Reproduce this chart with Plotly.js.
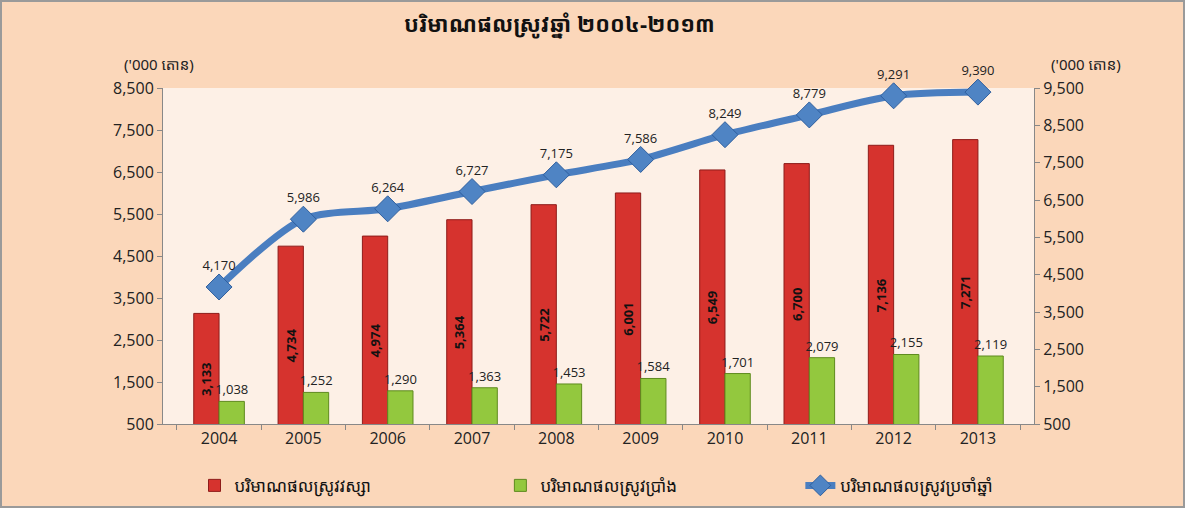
<!DOCTYPE html>
<html>
<head>
<meta charset="utf-8">
<script src="https://cdn.plot.ly/plotly-3.0.1.min.js"></script>
<style>
html,body{margin:0;padding:0;background:#fff;}
#chart{width:1181px;height:504px;border:2px solid #9a9a9a;}
</style>
</head>
<body>
<div id="chart"></div>
<script>
var years = ['2004','2005','2006','2007','2008','2009','2010','2011','2012','2013'];
var wetSeason = [3133,4734,4974,5364,5722,6001,6549,6700,7136,7271];
var drySeason = [1038,1252,1290,1363,1453,1584,1701,2079,2155,2119];
var annualTotal = [4170,5986,6264,6727,7175,7586,8249,8779,9291,9390];
var leftTicks = [500,1500,2500,3500,4500,5500,6500,7500,8500];
var rightTicks = [500,1500,2500,3500,4500,5500,6500,7500,8500,9500];

var nameWet = 'បរិមាណផលស្រូវវស្សា';
var nameDry = 'បរិមាណផលស្រូវប្រាំង';
var nameTotal = 'បរិមាណផលស្រូវប្រចាំឆ្នាំ';
var titleText = 'បរិមាណផលស្រូវឆ្នាំ ២០០៤-២០១៣';
var unitText = "('000 តោន)";

var khmerFont = '"Noto Sans Khmer","Khmer OS","Noto Sans",sans-serif';
var numFont = '"Liberation Sans Narrow","Open Sans","Liberation Sans",sans-serif';
function fmt(v){return v.toLocaleString('en-US');}

var traces = [
  {
    type:'bar', name:nameWet, x:years, y:wetSeason, legend:'legend',
    text:wetSeason.map(fmt), textposition:'inside', insidetextanchor:'middle',
    textangle:-90, constraintext:'none',
    textfont:{family:'"Open Sans",sans-serif', size:13, color:'#111', weight:'bold'},
    marker:{color:'#D6332E', line:{color:'#8E1C1A', width:1}},
    xaxis:'x', yaxis:'y', hoverinfo:'none'
  },
  {
    type:'bar', name:nameDry, x:years, y:drySeason, legend:'legend2',
    text:drySeason.map(fmt), textposition:'outside', cliponaxis:false, constraintext:'none',
    textangle:0,
    textfont:{family:'"Open Sans",sans-serif', size:13, color:'#222'},
    marker:{color:'#93C83E', line:{color:'#5E8A1E', width:1}},
    xaxis:'x', yaxis:'y', hoverinfo:'none'
  },
  {
    type:'scatter', mode:'lines+markers+text', name:nameTotal, x:years, y:annualTotal, legend:'legend3',
    text:annualTotal.map(fmt), textposition:'top center', cliponaxis:false,
    textfont:{family:'"Open Sans",sans-serif', size:13, color:'#222'},
    line:{color:'#4A7EC0', width:7, shape:'spline', smoothing:0.8},
    marker:{symbol:'diamond', size:20, color:'#4F84C4', line:{color:'#2F5F9E', width:1}},
    xaxis:'x', yaxis:'y2', hoverinfo:'none'
  }
];

function legendAt(xc){
  return {orientation:'h', xref:'container', yref:'container', x:xc, xanchor:'left', y:0.04, yanchor:'middle',
          bgcolor:'rgba(0,0,0,0)', font:{family:khmerFont, size:17, color:'#111'}};
}

var layout = {
  width:1181, height:504,
  paper_bgcolor:'#FBD7BA', plot_bgcolor:'#FDF0E6',
  margin:{l:161, r:149, t:86, b:82, autoexpand:false},
  showlegend:true,
  barmode:'group', bargap:0.4, bargroupgap:0,
  title:{text:titleText, x:0.472, xanchor:'center', y:0.955, yanchor:'middle',
         font:{family:khmerFont, size:22, color:'#111', weight:'bold'}},
  xaxis:{type:'category', showgrid:false, showline:true, linecolor:'#888', linewidth:1,
         ticks:'outside', ticklen:5, tickcolor:'#888', tickson:'boundaries',
         tickfont:{family:numFont, size:16, color:'#222'}, fixedrange:true},
  yaxis:{range:[500,8500], tickvals:leftTicks, ticktext:leftTicks.map(fmt), showgrid:false,
         showline:true, linecolor:'#888', linewidth:1, ticks:'outside', ticklen:5, tickcolor:'#888',
         tickfont:{family:numFont, size:16, color:'#222'}, zeroline:false},
  yaxis2:{range:[500,9500], tickvals:rightTicks, ticktext:rightTicks.map(fmt), overlaying:'y', side:'right',
          showgrid:false, showline:true, linecolor:'#888', linewidth:1, ticks:'outside', ticklen:5, tickcolor:'#888',
          tickfont:{family:numFont, size:16, color:'#222'}, zeroline:false},
  legend:legendAt(0.163),
  legend2:legendAt(0.422),
  legend3:legendAt(0.676),
  annotations:[
    {xref:'paper', yref:'paper', x:-0.005, y:1.035, xanchor:'center', yanchor:'bottom', showarrow:false,
     text:unitText, font:{family:khmerFont, size:15, color:'#222'}},
    {xref:'paper', yref:'paper', x:1.06, y:1.035, xanchor:'center', yanchor:'bottom', showarrow:false,
     text:unitText, font:{family:khmerFont, size:15, color:'#222'}}
  ]
};

Plotly.newPlot('chart', traces, layout, {displayModeBar:false, staticPlot:true});
</script>
</body>
</html>
